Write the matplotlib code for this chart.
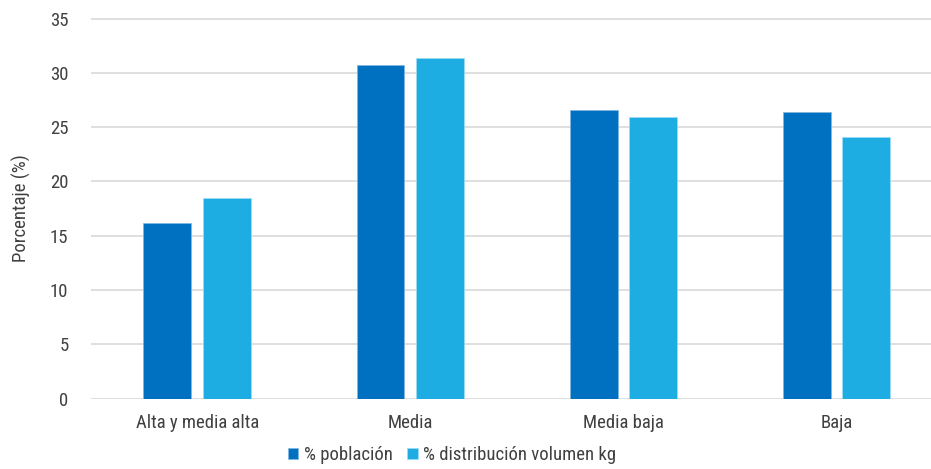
import matplotlib
matplotlib.use("Agg")
import matplotlib.pyplot as plt
import numpy as np
from matplotlib import font_manager

categories = ["Alta y media alta", "Media", "Media baja", "Baja"]
poblacion = [16.2, 30.7, 26.6, 26.4]
distribucion = [18.5, 31.4, 25.9, 24.1]
series_labels = ["% población", "% distribución volumen kg"]
colors = ["#0070C0", "#1EADE3"]

names = {f.name for f in font_manager.fontManager.ttflist}
family = [n for n in ["Roboto Condensed", "Liberation Sans Narrow", "DejaVu Sans"] if n in names]
plt.rcParams["font.family"] = family

fig = plt.figure(figsize=(9.31, 4.69), dpi=100)
ax = fig.add_axes([90.7 / 931, 1 - 398.7 / 469, 852.3 / 931, 380.2 / 469])

x = np.arange(len(categories))
w = 0.225
ax.bar(x - 0.14, poblacion, w, color=colors[0], edgecolor="#7fb8e0", linewidth=0.5,
       label=series_labels[0], zorder=3)
ax.bar(x + 0.14, distribucion, w, color=colors[1], edgecolor="#9fdcf5", linewidth=0.5,
       label=series_labels[1], zorder=3)

ax.set_xlim(-0.5, 3.5)
ax.set_ylim(0, 35)
ax.set_yticks(range(0, 36, 5))
ax.set_xticks(x)
ax.set_xticklabels(categories)
ax.grid(axis="y", color="#d9d9d9", linewidth=1.2, zorder=0)
for s in ax.spines.values():
    s.set_visible(False)
ax.tick_params(length=0, labelsize=13.5, colors="#404040")
ax.tick_params(axis="y", pad=16)
ax.tick_params(axis="x", pad=11)
ax.set_ylabel("Porcentaje (%)", fontsize=13.5, color="#404040", labelpad=14)

leg = fig.legend(loc="center", bbox_to_anchor=(452 / 931, 1 - 455 / 469), ncol=2,
                 frameon=False, fontsize=13.5, handlelength=0.55, handleheight=0.55,
                 handletextpad=0.3, columnspacing=0.8)
for t in leg.get_texts():
    t.set_color("#404040")

fig.savefig("out.png", dpi=100)
